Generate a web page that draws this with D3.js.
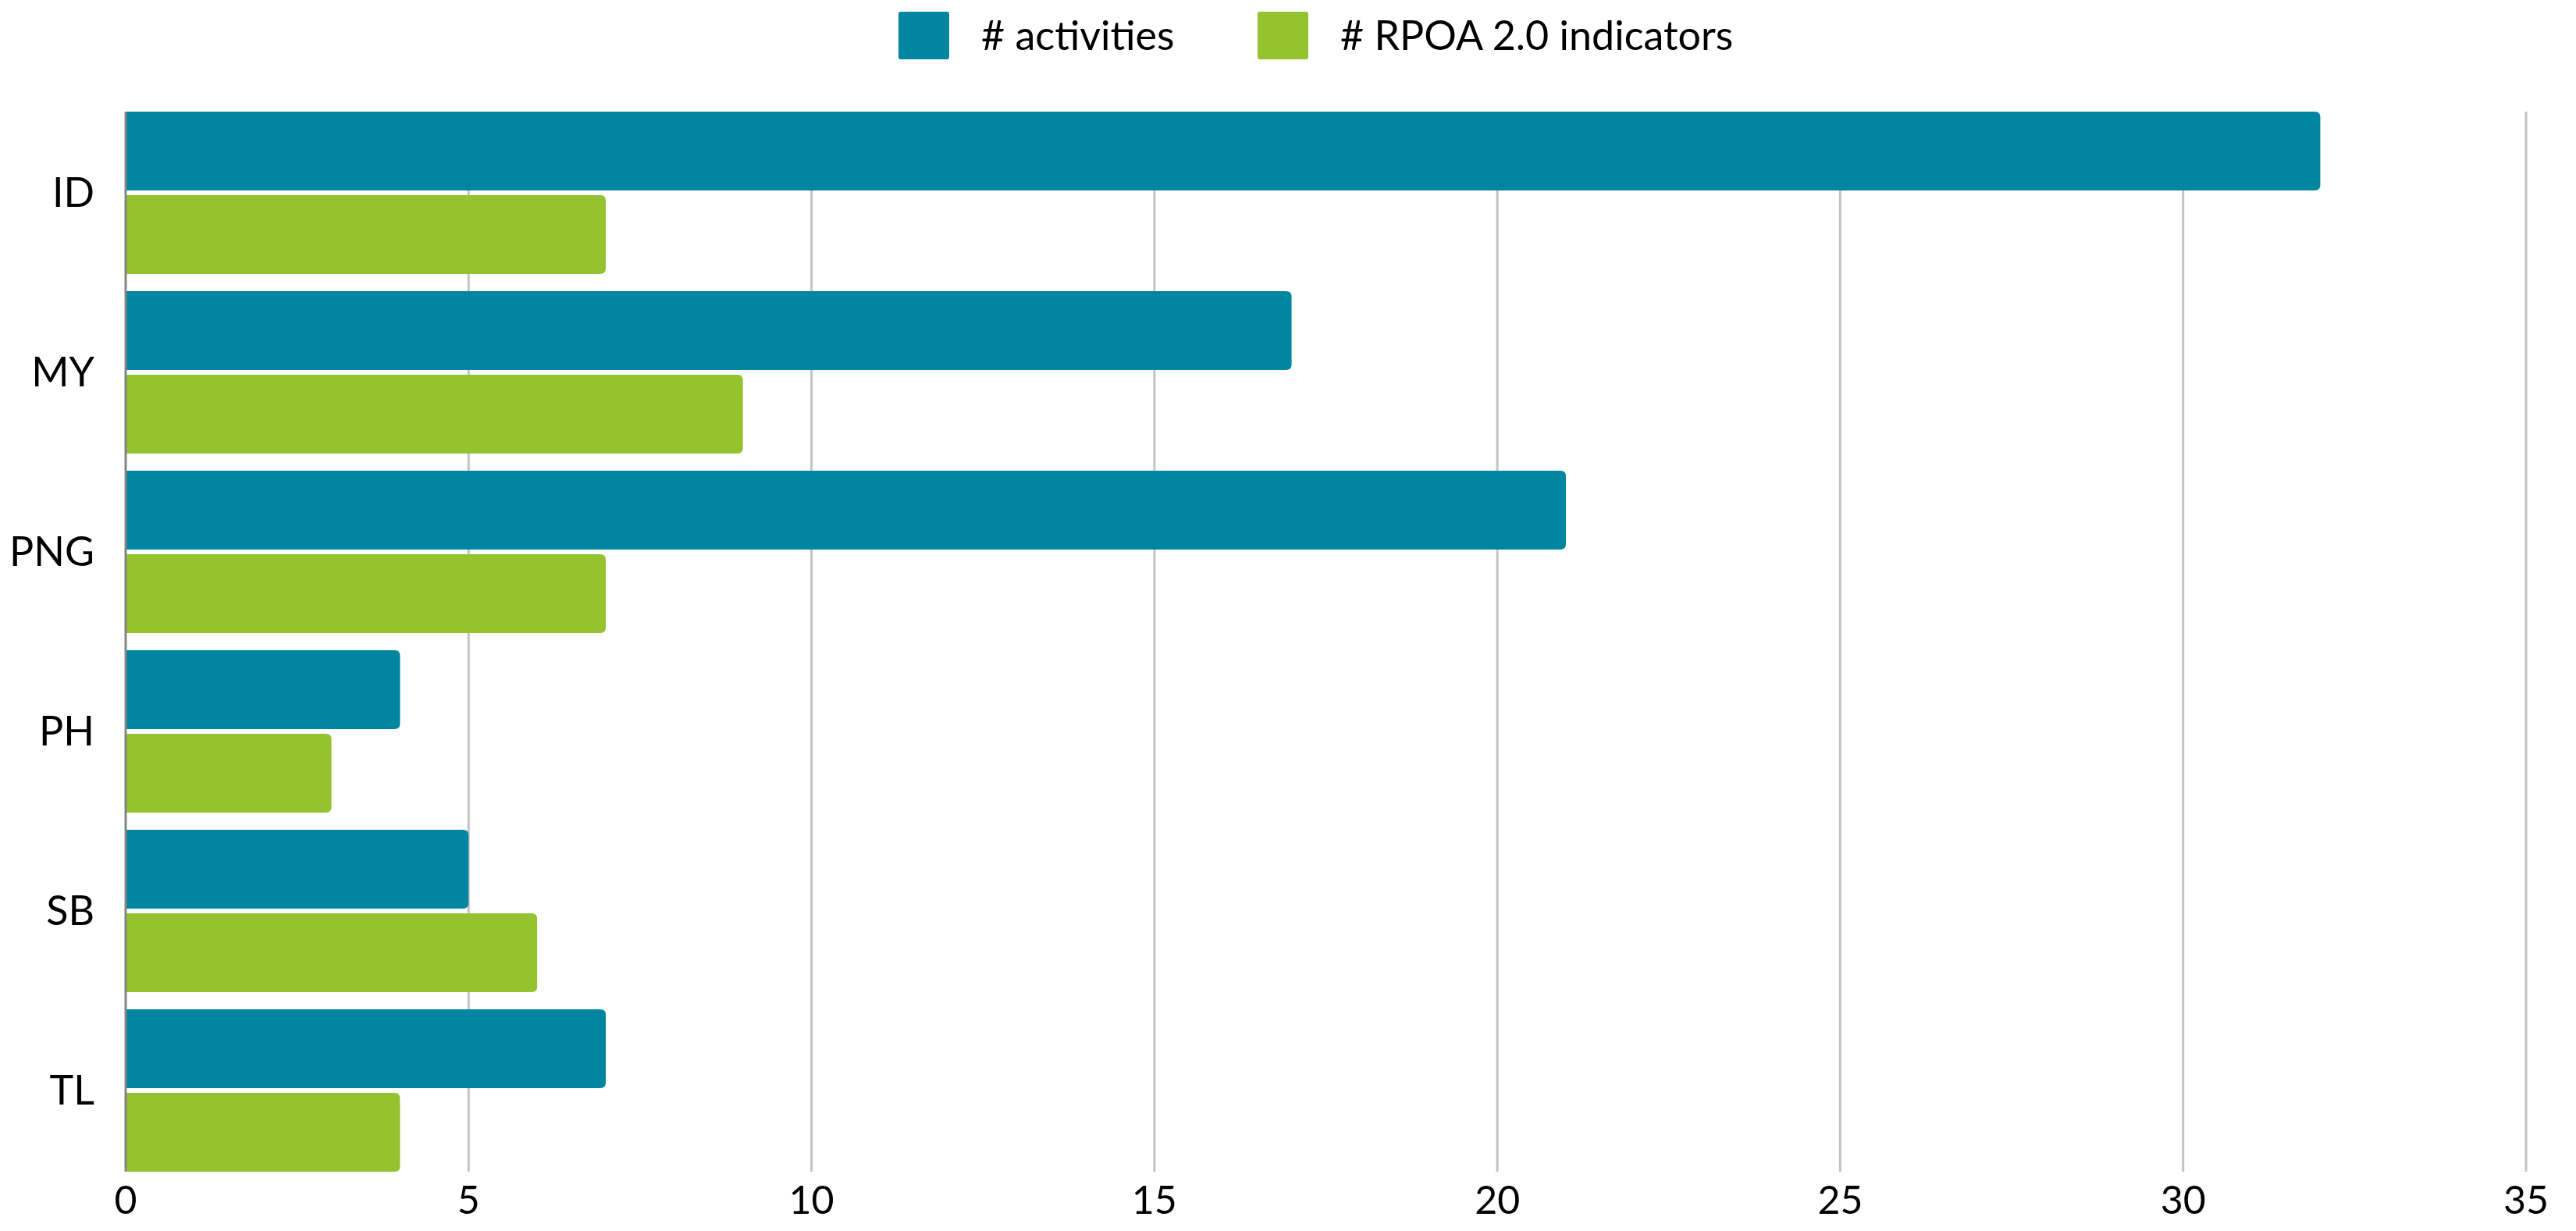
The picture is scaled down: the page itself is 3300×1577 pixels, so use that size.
<!DOCTYPE html>
<html>
<head>
<meta charset="utf-8">
<script src="https://cdn.jsdelivr.net/npm/d3@7"></script>
<style>
  body { margin: 0; background: #fff; }
  text { font-family: Lato, 'Open Sans', sans-serif; fill: #000; }
</style>
</head>
<body>
<script>
// données
const pays = ['ID', 'MY', 'PNG', 'PH', 'SB', 'TL'];
const series = ['# activities', '# RPOA 2.0 indicators'];
const activites = [32, 17, 21, 4, 5, 7];
const indicateurs = [7, 9, 7, 3, 6, 4];
const graduations = [0, 5, 10, 15, 20, 25, 30, 35];
const couleurs = ['#0086a0', '#93c42f'];

const largeur = 3300, hauteur = 1577;
const marge = {haut: 143, droite: 64, bas: 76, gauche: 161};

// créer le canevas
const canevas = d3.select('body')
  .append('svg')
  .attr('width', largeur)
  .attr('height', hauteur);

// échelles
const echelleX = d3.scaleLinear()
  .domain([0, 35])
  .range([marge.gauche, largeur - marge.droite]);

const echelleY = d3.scaleBand()
  .domain(pays)
  .range([marge.haut, hauteur - marge.bas])
  .paddingInner(22 / 230)
  .paddingOuter(0);

const echelleSerie = d3.scaleBand()
  .domain(series)
  .range([0, echelleY.bandwidth()])
  .paddingInner(6 / 104);

// lignes de grille
canevas.append('g')
  .selectAll('line')
  .data(graduations.filter(d => d > 0))
  .enter()
  .append('line')
  .attr('x1', d => echelleX(d))
  .attr('x2', d => echelleX(d))
  .attr('y1', marge.haut)
  .attr('y2', hauteur - marge.bas)
  .attr('stroke', '#c3c3c3')
  .attr('stroke-width', 3);

// barre avec coins arrondis à droite
function barre(x0, x1, y, h, r) {
  r = Math.min(r, (x1 - x0) / 2);
  return `M${x0},${y}H${x1 - r}Q${x1},${y} ${x1},${y + r}`
    + `V${y + h - r}Q${x1},${y + h} ${x1 - r},${y + h}H${x0}Z`;
}

const lignes = pays.map((p, i) => ({pays: p, valeurs: [activites[i], indicateurs[i]]}));

const groupes = canevas.append('g')
  .selectAll('g')
  .data(lignes)
  .enter()
  .append('g')
  .attr('transform', d => `translate(0,${echelleY(d.pays)})`);

groupes.selectAll('path')
  .data(d => d.valeurs.map((v, j) => ({serie: series[j], valeur: v, j: j})))
  .enter()
  .append('path')
  .attr('d', d => barre(echelleX(0), echelleX(d.valeur), echelleSerie(d.serie), echelleSerie.bandwidth(), 7))
  .attr('fill', d => couleurs[d.j]);

// axe vertical
canevas.append('line')
  .attr('x1', echelleX(0))
  .attr('x2', echelleX(0))
  .attr('y1', marge.haut)
  .attr('y2', hauteur - marge.bas)
  .attr('stroke', '#858585')
  .attr('stroke-width', 3);

// étiquettes des pays
canevas.append('g')
  .selectAll('text')
  .data(pays)
  .enter()
  .append('text')
  .attr('x', echelleX(0) - 40)
  .attr('y', d => echelleY(d) + echelleY.bandwidth() / 2)
  .attr('dy', '0.35em')
  .attr('text-anchor', 'end')
  .attr('font-size', 52)
  .text(d => d);

// étiquettes de l'axe X
canevas.append('g')
  .selectAll('text')
  .data(graduations)
  .enter()
  .append('text')
  .attr('x', d => echelleX(d))
  .attr('y', hauteur - marge.bas + 36)
  .attr('dy', '0.35em')
  .attr('text-anchor', 'middle')
  .attr('font-size', 50)
  .text(d => d);

// légende
const legende = canevas.append('g');
const posLegende = [1151, 1611];
series.forEach((s, i) => {
  legende.append('rect')
    .attr('x', posLegende[i])
    .attr('y', 15)
    .attr('width', 65)
    .attr('height', 61)
    .attr('rx', 3)
    .attr('fill', couleurs[i]);
  legende.append('text')
    .attr('x', posLegende[i] + 106)
    .attr('y', 46)
    .attr('dy', '0.35em')
    .attr('font-size', 52)
    .text(s);
});
</script>
</body>
</html>
